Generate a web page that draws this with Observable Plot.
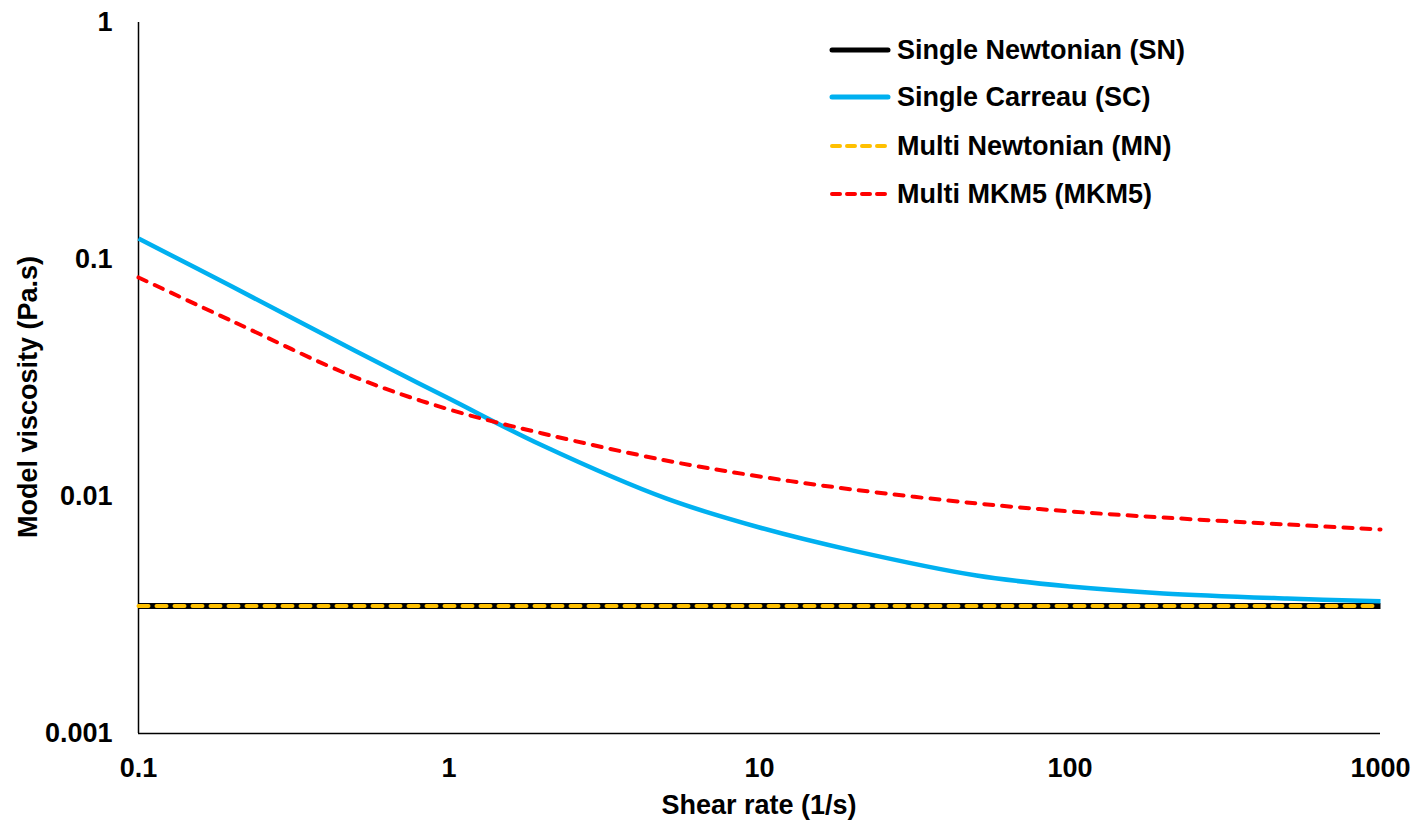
<!DOCTYPE html>
<html><head><meta charset="utf-8">
<script src="https://cdn.jsdelivr.net/npm/d3@7"></script>
<script src="https://cdn.jsdelivr.net/npm/@observablehq/plot@0.6"></script>
<style>
body{margin:0;background:#fff;}
#wrap{position:relative;width:1427px;height:824px;font-family:"Liberation Sans",Arial,sans-serif;font-weight:bold;}
.t{position:absolute;font-size:27px;color:#000;white-space:nowrap;line-height:1;}
#xt{left:759px;top:805px;transform:translate(-50%,-50%);}
#yt{left:28px;top:397px;transform:translate(-50%,-50%) rotate(-90deg);}
#legend{position:absolute;left:0;top:0;}
</style></head><body><div id="wrap"></div>
<script>
// ---- data ----
const shearRates = [0.1, 0.2, 0.5, 1, 2, 5, 10, 20, 50, 100, 200, 500, 1000];
const singleNewtonian = [0.00345, 0.00345, 0.00345, 0.00345, 0.00345, 0.00345, 0.00345, 0.00345, 0.00345, 0.00345, 0.00345, 0.00345, 0.00345];
const singleCarreau   = [0.1226, 0.0769, 0.0411, 0.0259, 0.0164, 0.00981, 0.00740, 0.00591, 0.00464, 0.00417, 0.00390, 0.00371, 0.00361];
const multiNewtonian  = [0.00345, 0.00345, 0.00345, 0.00345, 0.00345, 0.00345, 0.00345, 0.00345, 0.00345, 0.00345, 0.00345, 0.00345, 0.00345];
const multiMKM5       = [0.0840, 0.0550, 0.0318, 0.0233, 0.01845, 0.01419, 0.01215, 0.01070, 0.00935, 0.00865, 0.00815, 0.00762, 0.00726];
const seriesNames = ["Single Newtonian (SN)", "Single Carreau (SC)", "Multi Newtonian (MN)", "Multi MKM5 (MKM5)"];
const xTicks = [0.1, 1, 10, 100, 1000];
const yTicks = [0.001, 0.01, 0.1, 1];
const xTitle = "Shear rate (1/s)";
const yTitle = "Model viscosity (Pa.s)";

// ---- styles ----
const seriesStyles = [
  {stroke: "#000000", strokeWidth: 6, dash: null, curve: "linear"},
  {stroke: "#00B0F0", strokeWidth: 4.5, dash: null, curve: "catmull-rom"},
  {stroke: "#FFC000", strokeWidth: 4, dash: "10,8", curve: "linear"},
  {stroke: "#FF0000", strokeWidth: 4, dash: "9,9", curve: "catmull-rom"}
];
const seriesValues = [singleNewtonian, singleCarreau, multiNewtonian, multiMKM5];
const tables = seriesValues.map((vals, i) => shearRates.map((r, j) => ({rate: r, mu: vals[j], series: seriesNames[i]})));

const font = '"Liberation Sans", Arial, sans-serif';
const chart = Plot.plot({
  width: 1427, height: 824,
  marginLeft: 138, marginRight: 47, marginTop: 22, marginBottom: 91,
  x: {type: "log", domain: [0.1, 1000]},
  y: {type: "log", domain: [0.001, 1]},
  style: {fontFamily: font, fontSize: "27px", fontWeight: "bold", color: "#000", background: "white"},
  marks: [
    Plot.axisX({ticks: xTicks, tickSize: 0, tickPadding: 24, tickFormat: d => String(d), label: null, fontSize: 27, fontWeight: "bold"}),
    Plot.axisY({ticks: yTicks, tickSize: 0, tickPadding: 26, tickFormat: d => String(d), label: null, fontSize: 27, fontWeight: "bold"}),
    Plot.ruleX([0.1], {stroke: "#000", strokeWidth: 1.5}),
    Plot.ruleY([0.001], {stroke: "#000", strokeWidth: 1.5}),
    ...tables.map((t, i) => Plot.line(t, {
      x: "rate", y: "mu",
      stroke: seriesStyles[i].stroke,
      strokeWidth: seriesStyles[i].strokeWidth,
      strokeDasharray: seriesStyles[i].dash,
      strokeLinecap: seriesStyles[i].dash ? "round" : "butt",
      curve: seriesStyles[i].curve
    }))
  ]
});
const wrap = document.getElementById("wrap");
wrap.appendChild(chart);

const xt = document.createElement("div"); xt.className = "t"; xt.id = "xt"; xt.textContent = xTitle; wrap.appendChild(xt);
const yt = document.createElement("div"); yt.className = "t"; yt.id = "yt"; yt.textContent = yTitle; wrap.appendChild(yt);

// ---- legend ----
const legendRows = [50, 97, 146, 194];
const lg = d3.select(wrap).append("svg").attr("id", "legend").attr("width", 1427).attr("height", 824)
  .style("pointer-events", "none");
seriesNames.forEach((name, i) => {
  const s = seriesStyles[i];
  const y = legendRows[i];
  lg.append("line").attr("x1", 832).attr("x2", 888).attr("y1", y).attr("y2", y)
    .attr("stroke", s.stroke).attr("stroke-width", s.dash ? 4 : 5)
    .attr("stroke-dasharray", s.dash ? "8,7" : null)
    .attr("stroke-linecap", "round");
  lg.append("text").attr("x", 897).attr("y", y).attr("dominant-baseline", "central")
    .attr("font-family", font).attr("font-weight", "bold").attr("font-size", 27)
    .attr("fill", "#000").text(name);
});
</script></body></html>
